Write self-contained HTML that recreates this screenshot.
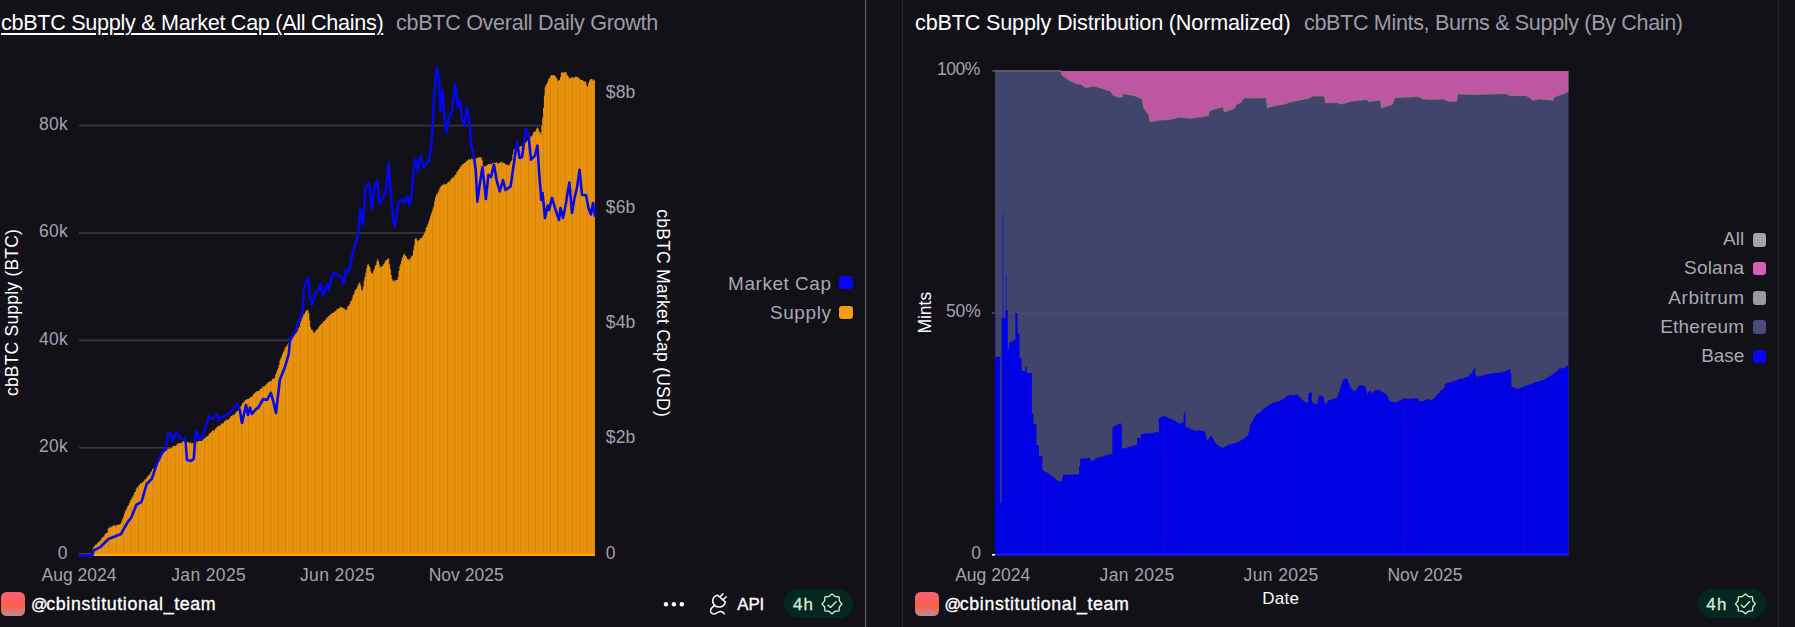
<!DOCTYPE html>
<html lang="en"><head><meta charset="utf-8"><title>cbBTC dashboard</title>
<style>
html,body{margin:0;padding:0;background:#111117;}
body{width:1795px;height:627px;overflow:hidden;position:relative;font-family:"Liberation Sans", Arial, sans-serif;color:#fff;}
.cv{position:absolute;left:0;top:0;}
.vl{position:absolute;top:0;height:627px;width:1px;}
.t{position:absolute;white-space:nowrap;line-height:1;margin:0;font-weight:400;}
.title{font-size:21.6px;top:12.1px;}
.title.on{color:#fff;}
.title.u{text-decoration:underline;text-decoration-thickness:1.7px;text-underline-offset:2.6px;}
.title.off{color:#9c9ca5;}
.ul{position:absolute;height:1.6px;background:#fff;}
.av{position:absolute;width:23.6px;height:24px;border-radius:5.5px;background:linear-gradient(180deg,#fb5f69 0%,#fb5f69 30%,#f95f4a 46%,#f8604a 60%,#dc7570 78%,#bd8797 100%);}
.user{font-size:17.8px;font-weight:500;color:#fff;top:596px;-webkit-text-stroke:0.35px #fff;}
.at{font-size:0.92em;letter-spacing:-1.4px;}
.lg{position:absolute;white-space:nowrap;line-height:1;font-size:19px;color:#a9a9b0;text-align:right;}
.sq{position:absolute;width:13.6px;height:13.6px;border-radius:3.2px;}
.badge{position:absolute;height:29.2px;width:68.6px;border-radius:14.6px;background:#03281f;}
.b4{font-size:16.9px;font-weight:500;color:#d5ecd9;-webkit-text-stroke:0.32px #d5ecd9;}
</style></head>
<body>
<svg class="cv" width="1795" height="627" viewBox="0 0 1795 627" font-family='"Liberation Sans", Arial, sans-serif'>
<defs>
<pattern id="st" x="79" y="0" width="7.36" height="600" patternUnits="userSpaceOnUse">
<rect x="0" y="0" width="7.36" height="600" fill="#e9920b"/>
<rect x="0" y="0" width="0.9" height="600" fill="#d38207"/>
<rect x="3.6" y="0" width="0.6" height="600" fill="#e08b09"/>
</pattern>
<pattern id="bst" x="995" y="0" width="7.5" height="600" patternUnits="userSpaceOnUse">
<rect width="7.5" height="600" fill="#0202e6"/>
<rect width="0.8" height="600" fill="#0000d4"/>
</pattern>
</defs>
<!-- left chart -->
<g fill="#37373d">
<rect x="79" y="124.7" width="516" height="1.7"/><rect x="79" y="232.1" width="516" height="1.7"/>
<rect x="79" y="339.5" width="516" height="1.7"/><rect x="79" y="446.9" width="516" height="1.7"/>
</g>
<path d="M92.5,548.7 L93.3,548.7 L93.3,546.6 L94.2,546.6 L94.2,546.6 L95.0,546.6 L95.0,544.8 L95.9,544.8 L95.9,544.7 L96.7,544.7 L96.7,543.6 L97.6,543.6 L97.6,542.2 L98.4,542.2 L98.4,542.1 L99.3,542.1 L99.3,540.4 L100.1,540.4 L100.1,540.2 L101.0,540.2 L101.0,538.4 L101.8,538.4 L101.8,537.4 L102.7,537.4 L102.7,537.0 L103.5,537.0 L103.5,536.6 L104.4,536.6 L104.4,534.3 L105.2,534.3 L105.2,533.4 L106.1,533.4 L106.1,533.1 L106.9,533.1 L106.9,532.6 L107.8,532.6 L107.8,528.6 L108.6,528.6 L108.6,527.2 L109.5,527.2 L109.5,528.0 L110.3,528.0 L110.3,526.1 L111.2,526.1 L111.2,527.3 L112.0,527.3 L112.0,526.0 L112.9,526.0 L112.9,525.5 L113.7,525.5 L113.7,525.3 L114.6,525.3 L114.6,525.4 L115.4,525.4 L115.4,526.0 L116.3,526.0 L116.3,524.6 L117.1,524.6 L117.1,525.1 L118.0,525.1 L118.0,525.0 L118.8,525.0 L118.8,524.3 L119.7,524.3 L119.7,524.3 L120.5,524.3 L120.5,523.2 L121.4,523.2 L121.4,520.7 L122.2,520.7 L122.2,518.4 L123.1,518.4 L123.1,516.7 L123.9,516.7 L123.9,513.7 L124.8,513.7 L124.8,511.2 L125.6,511.2 L125.6,509.9 L126.5,509.9 L126.5,507.9 L127.3,507.9 L127.3,505.9 L128.2,505.9 L128.2,505.0 L129.0,505.0 L129.0,503.1 L129.9,503.1 L129.9,500.5 L130.7,500.5 L130.7,499.4 L131.6,499.4 L131.6,497.7 L132.4,497.7 L132.4,496.6 L133.3,496.6 L133.3,494.7 L134.1,494.7 L134.1,492.3 L135.0,492.3 L135.0,491.9 L135.8,491.9 L135.8,488.7 L136.7,488.7 L136.7,487.6 L137.5,487.6 L137.5,486.9 L138.4,486.9 L138.4,485.0 L139.2,485.0 L139.2,484.7 L140.1,484.7 L140.1,483.1 L140.9,483.1 L140.9,483.4 L141.8,483.4 L141.8,482.7 L142.6,482.7 L142.6,481.5 L143.5,481.5 L143.5,481.2 L144.3,481.2 L144.3,479.4 L145.2,479.4 L145.2,479.2 L146.0,479.2 L146.0,478.2 L146.9,478.2 L146.9,477.0 L147.7,477.0 L147.7,475.6 L148.6,475.6 L148.6,475.2 L149.4,475.2 L149.4,474.2 L150.3,474.2 L150.3,472.2 L151.1,472.2 L151.1,471.3 L152.0,471.3 L152.0,469.1 L152.8,469.1 L152.8,469.0 L153.7,469.0 L153.7,467.8 L154.5,467.8 L154.5,467.2 L155.4,467.2 L155.4,465.7 L156.2,465.7 L156.2,463.6 L157.1,463.6 L157.1,462.4 L157.9,462.4 L157.9,461.5 L158.8,461.5 L158.8,458.9 L159.6,458.9 L159.6,458.3 L160.5,458.3 L160.5,456.3 L161.3,456.3 L161.3,454.8 L162.2,454.8 L162.2,453.3 L163.0,453.3 L163.0,453.2 L163.9,453.2 L163.9,450.6 L164.7,450.6 L164.7,450.2 L165.6,450.2 L165.6,450.0 L166.4,450.0 L166.4,450.4 L167.3,450.4 L167.3,448.5 L168.1,448.5 L168.1,448.7 L169.0,448.7 L169.0,448.5 L169.8,448.5 L169.8,448.6 L170.7,448.6 L170.7,448.0 L171.5,448.0 L171.5,447.7 L172.4,447.7 L172.4,446.2 L173.2,446.2 L173.2,446.1 L174.1,446.1 L174.1,445.6 L174.9,445.6 L174.9,446.1 L175.8,446.1 L175.8,445.9 L176.6,445.9 L176.6,444.0 L177.5,444.0 L177.5,443.7 L178.3,443.7 L178.3,443.4 L179.2,443.4 L179.2,443.0 L180.0,443.0 L180.0,443.1 L180.9,443.1 L180.9,442.9 L181.7,442.9 L181.7,441.9 L182.6,441.9 L182.6,441.0 L183.4,441.0 L183.4,441.4 L184.3,441.4 L184.3,440.9 L185.1,440.9 L185.1,441.3 L186.0,441.3 L186.0,442.3 L186.8,442.3 L186.8,442.1 L187.7,442.1 L187.7,442.1 L188.5,442.1 L188.5,442.5 L189.4,442.5 L189.4,442.9 L190.2,442.9 L190.2,442.1 L191.1,442.1 L191.1,443.6 L191.9,443.6 L191.9,443.3 L192.8,443.3 L192.8,443.3 L193.6,443.3 L193.6,443.1 L194.5,443.1 L194.5,442.2 L195.3,442.2 L195.3,442.1 L196.2,442.1 L196.2,441.4 L197.0,441.4 L197.0,442.3 L197.9,442.3 L197.9,441.0 L198.7,441.0 L198.7,440.9 L199.6,440.9 L199.6,440.9 L200.4,440.9 L200.4,440.6 L201.3,440.6 L201.3,440.7 L202.1,440.7 L202.1,440.0 L203.0,440.0 L203.0,439.2 L203.8,439.2 L203.8,438.6 L204.7,438.6 L204.7,437.7 L205.5,437.7 L205.5,437.3 L206.4,437.3 L206.4,435.9 L207.2,435.9 L207.2,436.5 L208.1,436.5 L208.1,435.2 L208.9,435.2 L208.9,433.6 L209.8,433.6 L209.8,432.9 L210.6,432.9 L210.6,432.2 L211.5,432.2 L211.5,431.4 L212.3,431.4 L212.3,430.1 L213.2,430.1 L213.2,430.8 L214.0,430.8 L214.0,430.4 L214.9,430.4 L214.9,428.8 L215.7,428.8 L215.7,428.2 L216.6,428.2 L216.6,426.8 L217.4,426.8 L217.4,426.2 L218.3,426.2 L218.3,426.0 L219.1,426.0 L219.1,425.2 L220.0,425.2 L220.0,425.5 L220.8,425.5 L220.8,423.7 L221.7,423.7 L221.7,422.8 L222.5,422.8 L222.5,423.8 L223.4,423.8 L223.4,422.4 L224.2,422.4 L224.2,421.0 L225.1,421.0 L225.1,421.1 L225.9,421.1 L225.9,419.5 L226.8,419.5 L226.8,419.7 L227.6,419.7 L227.6,419.9 L228.5,419.9 L228.5,419.0 L229.3,419.0 L229.3,418.0 L230.2,418.0 L230.2,416.6 L231.0,416.6 L231.0,416.1 L231.9,416.1 L231.9,415.1 L232.7,415.1 L232.7,415.5 L233.6,415.5 L233.6,414.4 L234.4,414.4 L234.4,414.2 L235.3,414.2 L235.3,412.7 L236.1,412.7 L236.1,411.5 L237.0,411.5 L237.0,411.3 L237.8,411.3 L237.8,410.4 L238.7,410.4 L238.7,408.9 L239.5,408.9 L239.5,407.6 L240.4,407.6 L240.4,406.4 L241.2,406.4 L241.2,405.1 L242.1,405.1 L242.1,402.9 L242.9,402.9 L242.9,402.6 L243.8,402.6 L243.8,401.6 L244.6,401.6 L244.6,400.3 L245.5,400.3 L245.5,399.6 L246.3,399.6 L246.3,399.4 L247.2,399.4 L247.2,398.7 L248.0,398.7 L248.0,398.8 L248.9,398.8 L248.9,398.6 L249.7,398.6 L249.7,397.0 L250.6,397.0 L250.6,397.2 L251.4,397.2 L251.4,396.6 L252.3,396.6 L252.3,395.8 L253.1,395.8 L253.1,394.1 L254.0,394.1 L254.0,393.2 L254.8,393.2 L254.8,392.5 L255.7,392.5 L255.7,391.8 L256.5,391.8 L256.5,391.1 L257.4,391.1 L257.4,391.2 L258.2,391.2 L258.2,391.0 L259.1,391.0 L259.1,390.2 L259.9,390.2 L259.9,388.8 L260.8,388.8 L260.8,388.5 L261.6,388.5 L261.6,388.0 L262.5,388.0 L262.5,386.1 L263.3,386.1 L263.3,386.4 L264.2,386.4 L264.2,386.2 L265.0,386.2 L265.0,385.3 L265.9,385.3 L265.9,384.5 L266.7,384.5 L266.7,383.4 L267.6,383.4 L267.6,382.1 L268.4,382.1 L268.4,382.6 L269.3,382.6 L269.3,381.1 L270.1,381.1 L270.1,381.2 L271.0,381.2 L271.0,380.9 L271.8,380.9 L271.8,379.1 L272.7,379.1 L272.7,378.5 L273.5,378.5 L273.5,378.8 L274.4,378.8 L274.4,377.5 L275.2,377.5 L275.2,374.5 L276.1,374.5 L276.1,372.4 L276.9,372.4 L276.9,370.0 L277.8,370.0 L277.8,368.1 L278.6,368.1 L278.6,364.8 L279.5,364.8 L279.5,360.4 L280.3,360.4 L280.3,358.4 L281.2,358.4 L281.2,356.6 L282.0,356.6 L282.0,354.3 L282.9,354.3 L282.9,352.0 L283.7,352.0 L283.7,350.6 L284.6,350.6 L284.6,348.1 L285.4,348.1 L285.4,346.2 L286.3,346.2 L286.3,346.5 L287.1,346.5 L287.1,344.6 L288.0,344.6 L288.0,343.0 L288.8,343.0 L288.8,342.4 L289.7,342.4 L289.7,340.2 L290.5,340.2 L290.5,339.7 L291.4,339.7 L291.4,338.2 L292.2,338.2 L292.2,335.9 L293.1,335.9 L293.1,335.1 L293.9,335.1 L293.9,334.4 L294.8,334.4 L294.8,333.5 L295.6,333.5 L295.6,333.2 L296.5,333.2 L296.5,331.8 L297.4,331.8 L297.4,331.1 L298.2,331.1 L298.2,328.0 L299.1,328.0 L299.1,326.8 L299.9,326.8 L299.9,323.3 L300.8,323.3 L300.8,320.9 L301.6,320.9 L301.6,318.5 L302.5,318.5 L302.5,316.6 L303.3,316.6 L303.3,314.3 L304.2,314.3 L304.2,313.9 L305.0,313.9 L305.0,311.7 L305.9,311.7 L305.9,310.4 L306.7,310.4 L306.7,310.2 L307.6,310.2 L307.6,309.8 L308.4,309.8 L308.4,313.0 L309.3,313.0 L309.3,320.4 L310.1,320.4 L310.1,327.0 L311.0,327.0 L311.0,329.5 L311.8,329.5 L311.8,329.6 L312.7,329.6 L312.7,331.2 L313.5,331.2 L313.5,332.8 L314.4,332.8 L314.4,332.2 L315.2,332.2 L315.2,330.7 L316.1,330.7 L316.1,330.0 L316.9,330.0 L316.9,329.1 L317.8,329.1 L317.8,328.4 L318.6,328.4 L318.6,326.2 L319.5,326.2 L319.5,325.9 L320.3,325.9 L320.3,324.4 L321.2,324.4 L321.2,323.4 L322.0,323.4 L322.0,323.3 L322.9,323.3 L322.9,321.8 L323.7,321.8 L323.7,320.9 L324.6,320.9 L324.6,320.3 L325.4,320.3 L325.4,319.5 L326.3,319.5 L326.3,317.7 L327.1,317.7 L327.1,317.2 L328.0,317.2 L328.0,316.3 L328.8,316.3 L328.8,315.6 L329.7,315.6 L329.7,315.2 L330.5,315.2 L330.5,314.1 L331.4,314.1 L331.4,313.5 L332.2,313.5 L332.2,312.7 L333.1,312.7 L333.1,312.8 L333.9,312.8 L333.9,311.7 L334.8,311.7 L334.8,311.3 L335.6,311.3 L335.6,310.8 L336.5,310.8 L336.5,308.9 L337.3,308.9 L337.3,308.7 L338.2,308.7 L338.2,308.8 L339.0,308.8 L339.0,307.9 L339.9,307.9 L339.9,306.6 L340.7,306.6 L340.7,306.9 L341.6,306.9 L341.6,307.9 L342.4,307.9 L342.4,307.6 L343.3,307.6 L343.3,308.3 L344.1,308.3 L344.1,308.4 L345.0,308.4 L345.0,309.8 L345.8,309.8 L345.8,310.0 L346.7,310.0 L346.7,308.8 L347.5,308.8 L347.5,306.1 L348.4,306.1 L348.4,305.7 L349.2,305.7 L349.2,304.3 L350.1,304.3 L350.1,301.5 L350.9,301.5 L350.9,300.7 L351.8,300.7 L351.8,298.7 L352.6,298.7 L352.6,295.2 L353.5,295.2 L353.5,294.3 L354.3,294.3 L354.3,291.1 L355.2,291.1 L355.2,289.6 L356.0,289.6 L356.0,288.9 L356.9,288.9 L356.9,287.1 L357.7,287.1 L357.7,284.4 L358.6,284.4 L358.6,283.4 L359.4,283.4 L359.4,282.0 L360.3,282.0 L360.3,285.2 L361.1,285.2 L361.1,289.8 L362.0,289.8 L362.0,290.6 L362.8,290.6 L362.8,286.7 L363.7,286.7 L363.7,280.8 L364.5,280.8 L364.5,277.1 L365.4,277.1 L365.4,272.8 L366.2,272.8 L366.2,268.2 L367.1,268.2 L367.1,265.0 L367.9,265.0 L367.9,264.1 L368.8,264.1 L368.8,266.1 L369.6,266.1 L369.6,267.6 L370.5,267.6 L370.5,271.5 L371.3,271.5 L371.3,273.3 L372.2,273.3 L372.2,273.8 L373.0,273.8 L373.0,271.0 L373.9,271.0 L373.9,268.9 L374.7,268.9 L374.7,266.0 L375.6,266.0 L375.6,264.8 L376.4,264.8 L376.4,261.4 L377.3,261.4 L377.3,258.7 L378.1,258.7 L378.1,261.0 L379.0,261.0 L379.0,264.5 L379.8,264.5 L379.8,266.8 L380.7,266.8 L380.7,267.2 L381.5,267.2 L381.5,265.8 L382.4,265.8 L382.4,265.9 L383.2,265.9 L383.2,264.1 L384.1,264.1 L384.1,263.1 L384.9,263.1 L384.9,260.9 L385.8,260.9 L385.8,259.8 L386.6,259.8 L386.6,260.0 L387.5,260.0 L387.5,258.5 L388.3,258.5 L388.3,258.3 L389.2,258.3 L389.2,264.5 L390.0,264.5 L390.0,269.0 L390.9,269.0 L390.9,274.9 L391.7,274.9 L391.7,279.1 L392.6,279.1 L392.6,281.5 L393.4,281.5 L393.4,279.9 L394.3,279.9 L394.3,281.2 L395.1,281.2 L395.1,280.3 L396.0,280.3 L396.0,279.9 L396.8,279.9 L396.8,280.1 L397.7,280.1 L397.7,277.0 L398.5,277.0 L398.5,271.1 L399.4,271.1 L399.4,266.1 L400.2,266.1 L400.2,263.7 L401.1,263.7 L401.1,260.6 L401.9,260.6 L401.9,257.8 L402.8,257.8 L402.8,255.3 L403.6,255.3 L403.6,253.5 L404.5,253.5 L404.5,254.8 L405.3,254.8 L405.3,256.0 L406.2,256.0 L406.2,257.1 L407.0,257.1 L407.0,258.9 L407.9,258.9 L407.9,259.1 L408.7,259.1 L408.7,260.2 L409.6,260.2 L409.6,258.5 L410.4,258.5 L410.4,257.7 L411.3,257.7 L411.3,255.9 L412.1,255.9 L412.1,255.2 L413.0,255.2 L413.0,250.3 L413.8,250.3 L413.8,245.5 L414.7,245.5 L414.7,239.1 L415.5,239.1 L415.5,237.7 L416.4,237.7 L416.4,239.4 L417.2,239.4 L417.2,241.4 L418.1,241.4 L418.1,239.7 L418.9,239.7 L418.9,240.2 L419.8,240.2 L419.8,238.6 L420.6,238.6 L420.6,237.9 L421.5,237.9 L421.5,237.7 L422.3,237.7 L422.3,236.1 L423.2,236.1 L423.2,234.6 L424.0,234.6 L424.0,232.7 L424.9,232.7 L424.9,231.1 L425.7,231.1 L425.7,227.8 L426.6,227.8 L426.6,226.6 L427.4,226.6 L427.4,224.2 L428.3,224.2 L428.3,221.8 L429.1,221.8 L429.1,219.0 L430.0,219.0 L430.0,216.5 L430.8,216.5 L430.8,213.6 L431.7,213.6 L431.7,211.3 L432.5,211.3 L432.5,208.8 L433.4,208.8 L433.4,206.2 L434.2,206.2 L434.2,201.3 L435.1,201.3 L435.1,197.1 L435.9,197.1 L435.9,194.6 L436.8,194.6 L436.8,194.3 L437.6,194.3 L437.6,192.6 L438.5,192.6 L438.5,190.6 L439.3,190.6 L439.3,188.2 L440.2,188.2 L440.2,186.4 L441.0,186.4 L441.0,185.7 L441.9,185.7 L441.9,185.5 L442.7,185.5 L442.7,184.5 L443.6,184.5 L443.6,184.5 L444.4,184.5 L444.4,183.7 L445.3,183.7 L445.3,184.5 L446.1,184.5 L446.1,184.0 L447.0,184.0 L447.0,182.7 L447.8,182.7 L447.8,181.6 L448.7,181.6 L448.7,182.3 L449.5,182.3 L449.5,180.5 L450.4,180.5 L450.4,179.7 L451.2,179.7 L451.2,178.2 L452.1,178.2 L452.1,178.0 L452.9,178.0 L452.9,177.3 L453.8,177.3 L453.8,176.5 L454.6,176.5 L454.6,175.1 L455.5,175.1 L455.5,174.6 L456.3,174.6 L456.3,172.3 L457.2,172.3 L457.2,171.3 L458.0,171.3 L458.0,169.8 L458.9,169.8 L458.9,169.1 L459.7,169.1 L459.7,167.3 L460.6,167.3 L460.6,166.0 L461.4,166.0 L461.4,165.3 L462.3,165.3 L462.3,164.0 L463.1,164.0 L463.1,163.8 L464.0,163.8 L464.0,162.9 L464.8,162.9 L464.8,162.5 L465.7,162.5 L465.7,161.5 L466.5,161.5 L466.5,160.7 L467.4,160.7 L467.4,160.3 L468.2,160.3 L468.2,159.2 L469.1,159.2 L469.1,158.9 L469.9,158.9 L469.9,159.9 L470.8,159.9 L470.8,158.2 L471.6,158.2 L471.6,159.1 L472.5,159.1 L472.5,158.8 L473.3,158.8 L473.3,157.5 L474.2,157.5 L474.2,158.8 L475.0,158.8 L475.0,158.7 L475.9,158.7 L475.9,158.1 L476.7,158.1 L476.7,158.1 L477.6,158.1 L477.6,158.1 L478.4,158.1 L478.4,156.8 L479.3,156.8 L479.3,157.4 L480.1,157.4 L480.1,157.2 L481.0,157.2 L481.0,157.7 L481.8,157.7 L481.8,160.5 L482.7,160.5 L482.7,165.3 L483.5,165.3 L483.5,166.0 L484.4,166.0 L484.4,166.4 L485.2,166.4 L485.2,165.9 L486.1,165.9 L486.1,165.8 L486.9,165.8 L486.9,164.8 L487.8,164.8 L487.8,164.3 L488.6,164.3 L488.6,164.3 L489.5,164.3 L489.5,164.3 L490.3,164.3 L490.3,163.4 L491.2,163.4 L491.2,164.3 L492.0,164.3 L492.0,163.4 L492.9,163.4 L492.9,163.1 L493.7,163.1 L493.7,162.7 L494.6,162.7 L494.6,162.9 L495.4,162.9 L495.4,162.7 L496.3,162.7 L496.3,161.9 L497.1,161.9 L497.1,163.5 L498.0,163.5 L498.0,163.3 L498.8,163.3 L498.8,162.7 L499.7,162.7 L499.7,162.5 L500.5,162.5 L500.5,162.5 L501.4,162.5 L501.4,161.3 L502.2,161.3 L502.2,163.0 L503.1,163.0 L503.1,162.7 L503.9,162.7 L503.9,162.9 L504.8,162.9 L504.8,163.8 L505.6,163.8 L505.6,165.1 L506.5,165.1 L506.5,164.2 L507.3,164.2 L507.3,165.1 L508.2,165.1 L508.2,165.6 L509.0,165.6 L509.0,164.6 L509.9,164.6 L509.9,162.8 L510.7,162.8 L510.7,161.3 L511.6,161.3 L511.6,160.0 L512.4,160.0 L512.4,154.5 L513.3,154.5 L513.3,149.5 L514.1,149.5 L514.1,149.2 L515.0,149.2 L515.0,147.8 L515.8,147.8 L515.8,147.6 L516.7,147.6 L516.7,147.4 L517.5,147.4 L517.5,148.0 L518.4,148.0 L518.4,147.0 L519.2,147.0 L519.2,147.3 L520.1,147.3 L520.1,146.2 L520.9,146.2 L520.9,146.1 L521.8,146.1 L521.8,146.2 L522.6,146.2 L522.6,145.9 L523.5,145.9 L523.5,145.0 L524.3,145.0 L524.3,144.0 L525.2,144.0 L525.2,142.3 L526.0,142.3 L526.0,141.8 L526.9,141.8 L526.9,140.7 L527.7,140.7 L527.7,139.8 L528.6,139.8 L528.6,138.2 L529.4,138.2 L529.4,138.6 L530.3,138.6 L530.3,136.2 L531.1,136.2 L531.1,136.4 L532.0,136.4 L532.0,135.2 L532.8,135.2 L532.8,132.4 L533.7,132.4 L533.7,132.1 L534.5,132.1 L534.5,131.6 L535.4,131.6 L535.4,130.7 L536.2,130.7 L536.2,128.6 L537.1,128.6 L537.1,127.4 L537.9,127.4 L537.9,128.8 L538.8,128.8 L538.8,131.6 L539.6,131.6 L539.6,131.8 L540.5,131.8 L540.5,133.9 L541.3,133.9 L541.3,126.0 L542.2,126.0 L542.2,117.8 L543.0,117.8 L543.0,107.7 L543.9,107.7 L543.9,95.4 L544.7,95.4 L544.7,87.1 L545.6,87.1 L545.6,84.8 L546.4,84.8 L546.4,83.8 L547.3,83.8 L547.3,81.7 L548.1,81.7 L548.1,79.1 L549.0,79.1 L549.0,78.6 L549.8,78.6 L549.8,76.5 L550.7,76.5 L550.7,75.3 L551.5,75.3 L551.5,74.9 L552.4,74.9 L552.4,75.5 L553.2,75.5 L553.2,75.1 L554.1,75.1 L554.1,75.3 L554.9,75.3 L554.9,76.1 L555.8,76.1 L555.8,77.6 L556.6,77.6 L556.6,78.7 L557.5,78.7 L557.5,80.8 L558.3,80.8 L558.3,80.4 L559.2,80.4 L559.2,80.0 L560.0,80.0 L560.0,76.9 L560.9,76.9 L560.9,72.4 L561.7,72.4 L561.7,72.4 L562.6,72.4 L562.6,72.2 L563.4,72.2 L563.4,72.8 L564.3,72.8 L564.3,71.9 L565.1,71.9 L565.1,72.2 L566.0,72.2 L566.0,72.5 L566.8,72.5 L566.8,74.7 L567.7,74.7 L567.7,76.0 L568.5,76.0 L568.5,77.6 L569.4,77.6 L569.4,78.7 L570.2,78.7 L570.2,78.1 L571.1,78.1 L571.1,77.4 L571.9,77.4 L571.9,77.2 L572.8,77.2 L572.8,78.2 L573.6,78.2 L573.6,76.9 L574.5,76.9 L574.5,77.7 L575.3,77.7 L575.3,76.2 L576.2,76.2 L576.2,76.6 L577.0,76.6 L577.0,77.4 L577.9,77.4 L577.9,77.3 L578.7,77.3 L578.7,78.0 L579.6,78.0 L579.6,79.4 L580.4,79.4 L580.4,79.7 L581.3,79.7 L581.3,80.0 L582.1,80.0 L582.1,80.1 L583.0,80.1 L583.0,81.1 L583.8,81.1 L583.8,81.6 L584.7,81.6 L584.7,81.3 L585.5,81.3 L585.5,82.1 L586.4,82.1 L586.4,85.8 L587.2,85.8 L587.2,86.4 L588.1,86.4 L588.1,83.2 L588.9,83.2 L588.9,81.0 L589.8,81.0 L589.8,79.4 L590.6,79.4 L590.6,78.9 L591.5,78.9 L591.5,78.7 L592.3,78.7 L592.3,80.6 L593.2,80.6 L593.2,79.3 L594.0,79.3 L594.0,80.2 L594.9,80.2 L594.9,80.1 L595.0,80.1 L595,555.5 L92.5,555.5 Z" fill="url(#st)"/>
<rect x="92.5" y="553.6" width="502.5" height="2.4" fill="#fda116"/>
<rect x="79" y="553.8" width="14" height="1.6" fill="#ffffff"/>
<path d="M79.0,555.4 L92.3,555.4 L93.5,550.6 L100.6,546.8 L108.3,539.0 L111.0,538.0 L121.0,534.0 L127.4,522.5 L131.3,517.4 L136.4,504.7 L141.5,502.0 L146.6,484.0 L151.7,479.0 L156.8,463.8 L163.0,451.0 L165.7,449.8 L168.3,433.0 L170.8,432.7 L172.0,440.8 L177.0,432.0 L179.8,438.0 L183.6,439.6 L185.3,438.0 L187.0,460.0 L191.0,461.0 L193.8,458.7 L195.6,433.0 L197.0,430.6 L198.4,438.0 L201.5,439.6 L209.0,416.6 L213.0,419.0 L216.8,414.0 L219.0,420.0 L223.0,416.6 L228.0,414.0 L233.4,409.0 L237.0,403.8 L239.8,410.0 L242.0,423.0 L246.0,405.0 L248.0,415.0 L250.0,407.7 L252.0,414.0 L256.0,409.0 L258.0,408.0 L263.2,399.0 L267.0,400.0 L270.8,392.8 L273.4,401.7 L276.0,413.0 L279.8,380.0 L284.9,367.0 L288.7,354.5 L290.0,340.4 L296.4,330.0 L299.0,320.0 L302.8,311.0 L304.0,288.0 L306.6,281.7 L308.6,277.9 L309.7,295.7 L312.2,304.7 L315.5,293.0 L319.4,289.4 L320.6,284.0 L323.2,295.7 L327.0,284.0 L328.3,289.4 L333.4,272.8 L337.2,275.0 L341.0,276.6 L343.6,284.0 L346.0,270.0 L348.0,272.0 L350.0,266.4 L351.5,257.9 L357.9,234.9 L360.4,209.4 L363.0,224.7 L365.5,186.4 L369.4,183.8 L372.0,209.0 L374.5,187.7 L377.5,180.0 L379.6,204.0 L383.4,196.6 L386.0,191.5 L388.5,163.4 L391.0,194.0 L393.6,222.0 L394.9,226.0 L398.7,201.7 L402.5,199.0 L404.0,203.0 L407.7,196.6 L409.0,205.5 L411.5,196.6 L414.0,166.0 L415.3,159.6 L417.9,171.0 L420.4,155.7 L423.8,167.0 L429.0,160.8 L431.5,144.0 L434.0,98.0 L436.6,67.7 L439.0,80.0 L440.4,111.0 L442.5,90.6 L444.0,111.0 L446.3,132.8 L449.4,116.0 L452.0,111.0 L455.0,84.0 L457.8,106.0 L460.0,101.0 L462.0,120.0 L464.7,125.0 L467.0,107.0 L469.8,123.8 L471.0,144.0 L473.6,154.5 L475.7,169.8 L477.4,201.7 L480.0,182.5 L482.5,167.0 L485.9,199.0 L488.4,174.9 L491.0,177.0 L494.0,164.7 L496.6,180.0 L499.7,191.5 L503.0,180.0 L505.5,190.0 L510.6,186.4 L513.0,169.8 L517.0,141.7 L519.6,158.0 L522.0,157.0 L526.0,129.0 L528.5,135.0 L531.0,159.6 L534.9,155.7 L537.4,145.5 L539.5,177.4 L541.3,200.0 L542.5,193.0 L545.0,218.0 L547.7,205.5 L549.0,210.0 L552.0,197.9 L555.0,208.0 L559.0,220.0 L560.5,208.0 L563.0,218.0 L565.5,205.5 L569.4,182.5 L572.0,213.0 L574.5,197.9 L577.0,187.7 L579.6,169.8 L582.0,195.0 L586.0,195.0 L588.5,208.0 L591.0,214.5 L593.0,203.0 L595.0,215.7" fill="none" stroke="#0606ee" stroke-width="2.6" stroke-linejoin="round" stroke-linecap="round"/>
<!-- right chart -->
<rect x="995" y="71" width="573.5" height="484" fill="#42446b"/>
<path d="M1061.2,71.0 L1062.0,75.0 L1068.8,80.0 L1075.5,83.5 L1081.3,84.3 L1085.5,87.7 L1093.9,86.0 L1102.3,88.5 L1110.6,91.0 L1113.0,95.2 L1119.0,97.2 L1122.4,96.9 L1122.7,93.5 L1129.0,94.7 L1135.8,96.0 L1142.5,99.4 L1143.3,107.0 L1146.6,112.0 L1149.0,115.3 L1150.0,121.7 L1155.9,121.0 L1159.0,120.0 L1169.3,119.5 L1179.3,117.3 L1191.0,118.3 L1202.8,116.6 L1208.6,115.3 L1209.0,111.0 L1216.0,108.6 L1222.9,106.9 L1224.5,112.0 L1234.6,108.3 L1235.4,105.3 L1241.3,101.9 L1243.8,97.7 L1253.0,98.0 L1266.4,97.7 L1267.2,107.8 L1273.0,106.0 L1280.0,104.8 L1285.0,104.0 L1290.0,101.9 L1300.0,99.9 L1308.5,98.6 L1312.7,96.0 L1324.7,96.0 L1325.3,102.7 L1337.0,102.7 L1342.0,104.0 L1352.0,101.0 L1367.0,99.4 L1368.8,101.6 L1380.5,100.2 L1381.4,107.8 L1392.3,104.4 L1394.8,97.7 L1419.0,96.5 L1422.4,98.9 L1432.5,99.4 L1442.5,98.9 L1449.2,101.4 L1456.7,101.0 L1457.6,93.9 L1476.0,94.4 L1492.8,93.9 L1506.0,93.5 L1509.5,95.7 L1526.3,95.5 L1533.0,100.2 L1539.7,98.9 L1553.0,100.2 L1553.9,97.2 L1559.8,94.9 L1566.5,92.7 L1568.5,91.0 L1568.5,71 Z" fill="#bc57a1"/>
<path d="M1061.2,71.0 L1062.0,75.0 L1068.8,80.0 L1075.5,83.5 L1081.3,84.3 L1085.5,87.7 L1093.9,86.0 L1102.3,88.5 L1110.6,91.0 L1113.0,95.2 L1119.0,97.2 L1122.4,96.9 L1122.7,93.5 L1129.0,94.7 L1135.8,96.0 L1142.5,99.4 L1143.3,107.0 L1146.6,112.0 L1149.0,115.3 L1150.0,121.7 L1155.9,121.0 L1159.0,120.0 L1169.3,119.5 L1179.3,117.3 L1191.0,118.3 L1202.8,116.6 L1208.6,115.3 L1209.0,111.0 L1216.0,108.6 L1222.9,106.9 L1224.5,112.0 L1234.6,108.3 L1235.4,105.3 L1241.3,101.9 L1243.8,97.7 L1253.0,98.0 L1266.4,97.7 L1267.2,107.8 L1273.0,106.0 L1280.0,104.8 L1285.0,104.0 L1290.0,101.9 L1300.0,99.9 L1308.5,98.6 L1312.7,96.0 L1324.7,96.0 L1325.3,102.7 L1337.0,102.7 L1342.0,104.0 L1352.0,101.0 L1367.0,99.4 L1368.8,101.6 L1380.5,100.2 L1381.4,107.8 L1392.3,104.4 L1394.8,97.7 L1419.0,96.5 L1422.4,98.9 L1432.5,99.4 L1442.5,98.9 L1449.2,101.4 L1456.7,101.0 L1457.6,93.9 L1476.0,94.4 L1492.8,93.9 L1506.0,93.5 L1509.5,95.7 L1526.3,95.5 L1533.0,100.2 L1539.7,98.9 L1553.0,100.2 L1553.9,97.2 L1559.8,94.9 L1566.5,92.7 L1568.5,91.0" fill="none" stroke="#8a8470" stroke-width="0.8"/>
<rect x="995" y="70.2" width="66.5" height="1.4" fill="#6b6c80"/>
<rect x="995" y="312.6" width="573.5" height="1" fill="#4c4e75"/>
<path d="M995.0,356.8 L1000.3,356.8 L1000.3,503.0 L1001.6,503.0 L1001.6,317.8 L1005.4,317.8 L1005.4,310.0 L1007.8,310.0 L1007.8,349.0 L1009.0,349.0 L1009.0,343.0 L1012.0,341.0 L1015.3,340.0 L1015.3,313.0 L1017.6,313.0 L1017.6,333.6 L1019.5,333.6 L1019.5,358.0 L1021.5,358.0 L1021.5,364.6 L1022.0,371.0 L1025.4,371.0 L1025.4,366.7 L1026.8,366.7 L1026.8,373.0 L1031.9,373.0 L1031.9,413.7 L1033.6,413.7 L1033.6,424.0 L1036.4,424.0 L1036.4,445.0 L1039.0,445.0 L1039.0,455.8 L1042.4,455.8 L1042.4,469.8 L1043.0,470.4 L1044.0,470.4 L1044.0,471.1 L1044.9,471.1 L1044.9,472.1 L1045.9,472.1 L1045.9,472.2 L1046.8,472.2 L1046.8,472.8 L1047.8,472.8 L1047.8,473.5 L1048.7,473.5 L1048.7,473.8 L1049.7,473.8 L1049.7,474.8 L1050.6,474.8 L1050.6,475.6 L1051.6,475.6 L1051.6,476.4 L1052.5,476.4 L1052.5,476.3 L1053.5,476.3 L1053.5,477.4 L1054.4,477.4 L1054.4,477.9 L1055.4,477.9 L1055.4,479.5 L1056.3,479.5 L1056.3,480.2 L1057.3,480.2 L1057.3,480.3 L1058.2,480.3 L1058.2,481.5 L1059.2,481.5 L1059.2,481.5 L1060.1,481.5 L1060.1,481.2 L1061.1,481.2 L1061.1,481.1 L1062.0,481.1 L1062.0,477.9 L1063.0,477.9 L1063.0,474.5 L1063.9,474.5 L1063.9,475.0 L1064.9,475.0 L1064.9,474.5 L1065.8,474.5 L1065.8,474.7 L1066.8,474.7 L1066.8,474.7 L1067.7,474.7 L1067.7,474.4 L1068.7,474.4 L1068.7,474.8 L1069.6,474.8 L1069.6,474.7 L1070.6,474.7 L1070.6,475.0 L1071.5,475.0 L1071.5,474.6 L1072.5,474.6 L1072.5,474.7 L1073.4,474.7 L1073.4,474.4 L1074.4,474.4 L1074.4,474.5 L1075.3,474.5 L1075.3,474.2 L1076.3,474.2 L1076.3,473.9 L1077.2,473.9 L1077.2,474.7 L1078.2,474.7 L1078.2,474.6 L1079.1,474.6 L1079.1,465.7 L1080.1,465.7 L1080.1,459.1 L1081.0,459.1 L1081.0,458.6 L1082.0,458.6 L1082.0,458.3 L1082.9,458.3 L1082.9,458.2 L1083.9,458.2 L1083.9,457.9 L1084.8,457.9 L1084.8,458.5 L1085.8,458.5 L1085.8,457.9 L1086.7,457.9 L1086.7,458.3 L1087.7,458.3 L1087.7,457.6 L1088.6,457.6 L1088.6,458.1 L1089.6,458.1 L1089.6,458.8 L1090.5,458.8 L1090.5,460.4 L1091.5,460.4 L1091.5,460.7 L1092.4,460.7 L1092.4,461.5 L1093.4,461.5 L1093.4,459.5 L1094.3,459.5 L1094.3,459.3 L1095.3,459.3 L1095.3,458.4 L1096.2,458.4 L1096.2,457.7 L1097.2,457.7 L1097.2,458.1 L1098.1,458.1 L1098.1,458.0 L1099.1,458.0 L1099.1,457.1 L1100.0,457.1 L1100.0,456.6 L1101.0,456.6 L1101.0,456.6 L1101.9,456.6 L1101.9,457.0 L1102.9,457.0 L1102.9,456.5 L1103.8,456.5 L1103.8,455.6 L1104.8,455.6 L1104.8,455.4 L1105.7,455.4 L1105.7,455.0 L1106.7,455.0 L1106.7,454.7 L1107.6,454.7 L1107.6,455.2 L1108.6,455.2 L1108.6,454.2 L1109.5,454.2 L1109.5,454.4 L1110.5,454.4 L1110.5,454.0 L1111.4,454.0 L1111.4,453.7 L1112.4,453.7 L1112.4,427.7 L1113.3,427.7 L1113.3,426.4 L1114.3,426.4 L1114.3,426.3 L1115.2,426.3 L1115.2,425.2 L1116.2,425.2 L1116.2,425.0 L1117.1,425.0 L1117.1,424.3 L1118.1,424.3 L1118.1,423.8 L1119.0,423.8 L1119.0,424.0 L1120.0,424.0 L1120.0,423.3 L1120.9,423.3 L1120.9,425.1 L1121.9,425.1 L1121.9,449.1 L1122.8,449.1 L1122.8,448.2 L1123.8,448.2 L1123.8,448.1 L1124.7,448.1 L1124.7,448.4 L1125.7,448.4 L1125.7,447.9 L1126.6,447.9 L1126.6,447.1 L1127.6,447.1 L1127.6,447.8 L1128.5,447.8 L1128.5,446.7 L1129.5,446.7 L1129.5,446.5 L1130.4,446.5 L1130.4,446.9 L1131.4,446.9 L1131.4,446.1 L1132.3,446.1 L1132.3,445.8 L1133.3,445.8 L1133.3,445.4 L1134.2,445.4 L1134.2,445.1 L1135.2,445.1 L1135.2,445.4 L1136.1,445.4 L1136.1,444.8 L1137.1,444.8 L1137.1,438.1 L1138.0,438.1 L1138.0,437.9 L1139.0,437.9 L1139.0,437.9 L1139.9,437.9 L1139.9,438.5 L1140.9,438.5 L1140.9,433.9 L1141.8,433.9 L1141.8,433.9 L1142.8,433.9 L1142.8,434.1 L1143.7,434.1 L1143.7,433.3 L1144.7,433.3 L1144.7,433.1 L1145.6,433.1 L1145.6,433.9 L1146.6,433.9 L1146.6,433.7 L1147.5,433.7 L1147.5,432.9 L1148.5,432.9 L1148.5,432.8 L1149.4,432.8 L1149.4,433.2 L1150.4,433.2 L1150.4,433.4 L1151.3,433.4 L1151.3,432.4 L1152.3,432.4 L1152.3,433.2 L1153.2,433.2 L1153.2,433.0 L1154.2,433.0 L1154.2,432.6 L1155.1,432.6 L1155.1,432.2 L1156.1,432.2 L1156.1,431.8 L1157.0,431.8 L1157.0,431.6 L1158.0,431.6 L1158.0,432.5 L1158.9,432.5 L1158.9,418.1 L1159.9,418.1 L1159.9,417.8 L1160.8,417.8 L1160.8,416.8 L1161.8,416.8 L1161.8,416.9 L1162.7,416.9 L1162.7,416.2 L1163.7,416.2 L1163.7,416.0 L1164.6,416.0 L1164.6,416.3 L1165.6,416.3 L1165.6,417.2 L1166.5,417.2 L1166.5,416.9 L1167.5,416.9 L1167.5,417.4 L1168.4,417.4 L1168.4,418.1 L1169.4,418.1 L1169.4,418.8 L1170.3,418.8 L1170.3,418.9 L1171.3,418.9 L1171.3,418.8 L1172.2,418.8 L1172.2,420.0 L1173.2,420.0 L1173.2,419.9 L1174.1,419.9 L1174.1,420.3 L1175.1,420.3 L1175.1,421.2 L1176.0,421.2 L1176.0,422.0 L1177.0,422.0 L1177.0,422.3 L1177.9,422.3 L1177.9,423.0 L1178.9,423.0 L1178.9,423.6 L1179.8,423.6 L1179.8,423.5 L1180.8,423.5 L1180.8,422.8 L1181.7,422.8 L1181.7,422.8 L1182.7,422.8 L1182.7,423.1 L1183.6,423.1 L1183.6,414.0 L1184.6,414.0 L1184.6,411.7 L1185.5,411.7 L1185.5,427.3 L1186.5,427.3 L1186.5,427.6 L1187.4,427.6 L1187.4,427.5 L1188.4,427.5 L1188.4,427.7 L1189.3,427.7 L1189.3,428.1 L1190.3,428.1 L1190.3,429.4 L1191.2,429.4 L1191.2,429.5 L1192.2,429.5 L1192.2,430.2 L1193.1,430.2 L1193.1,429.5 L1194.1,429.5 L1194.1,430.6 L1195.0,430.6 L1195.0,430.5 L1196.0,430.5 L1196.0,430.8 L1196.9,430.8 L1196.9,430.3 L1197.9,430.3 L1197.9,431.0 L1198.8,431.0 L1198.8,430.0 L1199.8,430.0 L1199.8,430.6 L1200.7,430.6 L1200.7,430.8 L1201.7,430.8 L1201.7,430.9 L1202.6,430.9 L1202.6,430.8 L1203.6,430.8 L1203.6,430.7 L1204.5,430.7 L1204.5,432.0 L1205.5,432.0 L1205.5,436.3 L1206.4,436.3 L1206.4,439.8 L1207.4,439.8 L1207.4,439.7 L1208.3,439.7 L1208.3,438.7 L1209.3,438.7 L1209.3,437.5 L1210.2,437.5 L1210.2,435.8 L1211.2,435.8 L1211.2,435.8 L1212.1,435.8 L1212.1,437.7 L1213.1,437.7 L1213.1,439.3 L1214.0,439.3 L1214.0,441.2 L1215.0,441.2 L1215.0,442.8 L1215.9,442.8 L1215.9,444.3 L1216.9,444.3 L1216.9,444.8 L1217.8,444.8 L1217.8,444.8 L1218.8,444.8 L1218.8,445.9 L1219.7,445.9 L1219.7,446.9 L1220.7,446.9 L1220.7,447.3 L1221.6,447.3 L1221.6,447.7 L1222.6,447.7 L1222.6,447.4 L1223.5,447.4 L1223.5,447.3 L1224.5,447.3 L1224.5,446.7 L1225.4,446.7 L1225.4,446.1 L1226.4,446.1 L1226.4,446.0 L1227.3,446.0 L1227.3,444.7 L1228.3,444.7 L1228.3,445.1 L1229.2,445.1 L1229.2,444.0 L1230.2,444.0 L1230.2,444.4 L1231.1,444.4 L1231.1,443.9 L1232.1,443.9 L1232.1,443.4 L1233.0,443.4 L1233.0,443.6 L1234.0,443.6 L1234.0,443.1 L1234.9,443.1 L1234.9,442.9 L1235.9,442.9 L1235.9,443.0 L1236.8,443.0 L1236.8,442.0 L1237.8,442.0 L1237.8,441.4 L1238.7,441.4 L1238.7,441.4 L1239.7,441.4 L1239.7,441.2 L1240.6,441.2 L1240.6,440.0 L1241.6,440.0 L1241.6,439.2 L1242.5,439.2 L1242.5,439.4 L1243.5,439.4 L1243.5,438.4 L1244.4,438.4 L1244.4,437.4 L1245.4,437.4 L1245.4,437.2 L1246.3,437.2 L1246.3,435.9 L1247.3,435.9 L1247.3,435.6 L1248.2,435.6 L1248.2,432.8 L1249.2,432.8 L1249.2,428.2 L1250.1,428.2 L1250.1,424.0 L1251.1,424.0 L1251.1,422.6 L1252.0,422.6 L1252.0,421.0 L1253.0,421.0 L1253.0,418.9 L1253.9,418.9 L1253.9,417.6 L1254.9,417.6 L1254.9,415.7 L1255.8,415.7 L1255.8,414.2 L1256.8,414.2 L1256.8,413.9 L1257.7,413.9 L1257.7,413.6 L1258.7,413.6 L1258.7,412.9 L1259.6,412.9 L1259.6,412.1 L1260.6,412.1 L1260.6,411.7 L1261.5,411.7 L1261.5,410.2 L1262.5,410.2 L1262.5,409.4 L1263.4,409.4 L1263.4,409.0 L1264.4,409.0 L1264.4,408.1 L1265.3,408.1 L1265.3,407.3 L1266.3,407.3 L1266.3,406.7 L1267.2,406.7 L1267.2,406.2 L1268.2,406.2 L1268.2,405.3 L1269.1,405.3 L1269.1,404.3 L1270.1,404.3 L1270.1,404.1 L1271.0,404.1 L1271.0,403.9 L1272.0,403.9 L1272.0,403.0 L1272.9,403.0 L1272.9,402.3 L1273.9,402.3 L1273.9,402.0 L1274.8,402.0 L1274.8,402.6 L1275.8,402.6 L1275.8,401.3 L1276.7,401.3 L1276.7,401.8 L1277.7,401.8 L1277.7,401.3 L1278.6,401.3 L1278.6,400.7 L1279.6,400.7 L1279.6,400.9 L1280.5,400.9 L1280.5,399.7 L1281.5,399.7 L1281.5,399.5 L1282.4,399.5 L1282.4,399.2 L1283.4,399.2 L1283.4,398.1 L1284.3,398.1 L1284.3,398.3 L1285.3,398.3 L1285.3,397.0 L1286.2,397.0 L1286.2,396.3 L1287.2,396.3 L1287.2,395.5 L1288.1,395.5 L1288.1,395.5 L1289.1,395.5 L1289.1,394.7 L1290.0,394.7 L1290.0,394.8 L1291.0,394.8 L1291.0,394.9 L1291.9,394.9 L1291.9,395.0 L1292.9,395.0 L1292.9,395.2 L1293.8,395.2 L1293.8,394.9 L1294.8,394.9 L1294.8,394.4 L1295.7,394.4 L1295.7,394.7 L1296.7,394.7 L1296.7,394.3 L1297.6,394.3 L1297.6,394.8 L1298.6,394.8 L1298.6,396.3 L1299.5,396.3 L1299.5,397.5 L1300.5,397.5 L1300.5,397.9 L1301.4,397.9 L1301.4,399.0 L1302.4,399.0 L1302.4,400.0 L1303.3,400.0 L1303.3,401.4 L1304.3,401.4 L1304.3,401.7 L1305.2,401.7 L1305.2,402.2 L1306.2,402.2 L1306.2,402.7 L1307.1,402.7 L1307.1,402.7 L1308.1,402.7 L1308.1,394.1 L1309.0,394.1 L1309.0,392.9 L1310.0,392.9 L1310.0,392.0 L1310.9,392.0 L1310.9,393.0 L1311.9,393.0 L1311.9,401.8 L1312.8,401.8 L1312.8,403.3 L1313.8,403.3 L1313.8,403.6 L1314.7,403.6 L1314.7,403.8 L1315.7,403.8 L1315.7,404.2 L1316.6,404.2 L1316.6,403.6 L1317.6,403.6 L1317.6,399.5 L1318.5,399.5 L1318.5,395.2 L1319.5,395.2 L1319.5,395.4 L1320.4,395.4 L1320.4,395.8 L1321.4,395.8 L1321.4,395.5 L1322.3,395.5 L1322.3,395.9 L1323.3,395.9 L1323.3,398.3 L1324.2,398.3 L1324.2,402.6 L1325.2,402.6 L1325.2,404.7 L1326.1,404.7 L1326.1,403.1 L1327.1,403.1 L1327.1,401.8 L1328.0,401.8 L1328.0,399.9 L1329.0,399.9 L1329.0,400.2 L1329.9,400.2 L1329.9,400.0 L1330.9,400.0 L1330.9,399.7 L1331.8,399.7 L1331.8,399.0 L1332.8,399.0 L1332.8,399.1 L1333.7,399.1 L1333.7,398.3 L1334.7,398.3 L1334.7,398.7 L1335.6,398.7 L1335.6,398.4 L1336.6,398.4 L1336.6,397.6 L1337.5,397.6 L1337.5,395.7 L1338.5,395.7 L1338.5,392.6 L1339.4,392.6 L1339.4,389.1 L1340.4,389.1 L1340.4,386.5 L1341.3,386.5 L1341.3,383.3 L1342.3,383.3 L1342.3,379.9 L1343.2,379.9 L1343.2,379.3 L1344.2,379.3 L1344.2,378.5 L1345.1,378.5 L1345.1,379.3 L1346.1,379.3 L1346.1,378.6 L1347.0,378.6 L1347.0,378.8 L1348.0,378.8 L1348.0,381.9 L1348.9,381.9 L1348.9,384.6 L1349.9,384.6 L1349.9,386.9 L1350.8,386.9 L1350.8,388.3 L1351.8,388.3 L1351.8,389.5 L1352.7,389.5 L1352.7,390.5 L1353.7,390.5 L1353.7,391.3 L1354.6,391.3 L1354.6,391.1 L1355.6,391.1 L1355.6,389.5 L1356.5,389.5 L1356.5,389.0 L1357.5,389.0 L1357.5,386.9 L1358.4,386.9 L1358.4,386.0 L1359.4,386.0 L1359.4,385.2 L1360.3,385.2 L1360.3,384.9 L1361.3,384.9 L1361.3,385.5 L1362.2,385.5 L1362.2,385.6 L1363.2,385.6 L1363.2,385.6 L1364.1,385.6 L1364.1,386.1 L1365.1,386.1 L1365.1,388.3 L1366.0,388.3 L1366.0,391.3 L1367.0,391.3 L1367.0,394.5 L1367.9,394.5 L1367.9,392.0 L1368.9,392.0 L1368.9,390.5 L1369.8,390.5 L1369.8,391.0 L1370.8,391.0 L1370.8,392.9 L1371.7,392.9 L1371.7,392.6 L1372.7,392.6 L1372.7,391.7 L1373.6,391.7 L1373.6,391.3 L1374.6,391.3 L1374.6,390.5 L1375.5,390.5 L1375.5,390.5 L1376.5,390.5 L1376.5,390.0 L1377.4,390.0 L1377.4,389.7 L1378.4,389.7 L1378.4,389.6 L1379.3,389.6 L1379.3,391.1 L1380.3,391.1 L1380.3,391.1 L1381.2,391.1 L1381.2,391.4 L1382.2,391.4 L1382.2,392.4 L1383.1,392.4 L1383.1,392.6 L1384.1,392.6 L1384.1,393.0 L1385.0,393.0 L1385.0,393.7 L1386.0,393.7 L1386.0,394.2 L1386.9,394.2 L1386.9,396.2 L1387.9,396.2 L1387.9,397.4 L1388.8,397.4 L1388.8,399.5 L1389.8,399.5 L1389.8,400.9 L1390.7,400.9 L1390.7,401.6 L1391.7,401.6 L1391.7,402.0 L1392.6,402.0 L1392.6,401.6 L1393.6,401.6 L1393.6,401.9 L1394.5,401.9 L1394.5,402.3 L1395.5,402.3 L1395.5,402.4 L1396.4,402.4 L1396.4,402.0 L1397.4,402.0 L1397.4,401.3 L1398.3,401.3 L1398.3,400.7 L1399.3,400.7 L1399.3,400.6 L1400.2,400.6 L1400.2,400.4 L1401.2,400.4 L1401.2,399.1 L1402.1,399.1 L1402.1,399.3 L1403.1,399.3 L1403.1,398.4 L1404.0,398.4 L1404.0,398.6 L1405.0,398.6 L1405.0,398.6 L1405.9,398.6 L1405.9,399.1 L1406.9,399.1 L1406.9,398.6 L1407.8,398.6 L1407.8,398.7 L1408.8,398.7 L1408.8,398.9 L1409.7,398.9 L1409.7,398.3 L1410.7,398.3 L1410.7,399.0 L1411.6,399.0 L1411.6,398.3 L1412.6,398.3 L1412.6,398.7 L1413.5,398.7 L1413.5,398.4 L1414.5,398.4 L1414.5,398.3 L1415.4,398.3 L1415.4,398.6 L1416.4,398.6 L1416.4,398.5 L1417.3,398.5 L1417.3,398.4 L1418.3,398.4 L1418.3,399.5 L1419.2,399.5 L1419.2,401.1 L1420.2,401.1 L1420.2,401.5 L1421.1,401.5 L1421.1,401.1 L1422.1,401.1 L1422.1,401.1 L1423.0,401.1 L1423.0,400.7 L1424.0,400.7 L1424.0,400.2 L1424.9,400.2 L1424.9,400.1 L1425.9,400.1 L1425.9,399.4 L1426.8,399.4 L1426.8,399.4 L1427.8,399.4 L1427.8,398.9 L1428.7,398.9 L1428.7,399.6 L1429.7,399.6 L1429.7,399.8 L1430.6,399.8 L1430.6,400.0 L1431.6,400.0 L1431.6,399.5 L1432.5,399.5 L1432.5,399.2 L1433.5,399.2 L1433.5,398.8 L1434.4,398.8 L1434.4,397.0 L1435.4,397.0 L1435.4,396.8 L1436.3,396.8 L1436.3,395.6 L1437.3,395.6 L1437.3,393.7 L1438.2,393.7 L1438.2,392.8 L1439.2,392.8 L1439.2,392.4 L1440.1,392.4 L1440.1,391.0 L1441.1,391.0 L1441.1,389.8 L1442.0,389.8 L1442.0,389.7 L1443.0,389.7 L1443.0,388.3 L1443.9,388.3 L1443.9,387.1 L1444.9,387.1 L1444.9,384.5 L1445.8,384.5 L1445.8,383.3 L1446.8,383.3 L1446.8,383.3 L1447.7,383.3 L1447.7,382.3 L1448.7,382.3 L1448.7,382.2 L1449.6,382.2 L1449.6,382.4 L1450.6,382.4 L1450.6,382.4 L1451.5,382.4 L1451.5,382.1 L1452.5,382.1 L1452.5,380.9 L1453.4,380.9 L1453.4,381.0 L1454.4,381.0 L1454.4,381.0 L1455.3,381.0 L1455.3,380.4 L1456.3,380.4 L1456.3,380.3 L1457.2,380.3 L1457.2,379.5 L1458.2,379.5 L1458.2,379.1 L1459.1,379.1 L1459.1,378.9 L1460.1,378.9 L1460.1,378.5 L1461.0,378.5 L1461.0,378.8 L1462.0,378.8 L1462.0,378.5 L1462.9,378.5 L1462.9,378.3 L1463.9,378.3 L1463.9,377.6 L1464.8,377.6 L1464.8,377.4 L1465.8,377.4 L1465.8,377.0 L1466.7,377.0 L1466.7,377.0 L1467.7,377.0 L1467.7,376.5 L1468.6,376.5 L1468.6,375.8 L1469.6,375.8 L1469.6,374.2 L1470.5,374.2 L1470.5,373.5 L1471.5,373.5 L1471.5,373.5 L1472.4,373.5 L1472.4,370.7 L1473.4,370.7 L1473.4,368.9 L1474.3,368.9 L1474.3,367.9 L1475.3,367.9 L1475.3,374.8 L1476.2,374.8 L1476.2,376.7 L1477.2,376.7 L1477.2,376.4 L1478.1,376.4 L1478.1,376.4 L1479.1,376.4 L1479.1,375.6 L1480.0,375.6 L1480.0,376.2 L1481.0,376.2 L1481.0,376.1 L1481.9,376.1 L1481.9,375.2 L1482.9,375.2 L1482.9,375.2 L1483.8,375.2 L1483.8,375.3 L1484.8,375.3 L1484.8,374.7 L1485.7,374.7 L1485.7,374.3 L1486.7,374.3 L1486.7,374.0 L1487.6,374.0 L1487.6,374.1 L1488.6,374.1 L1488.6,373.4 L1489.5,373.4 L1489.5,374.1 L1490.5,374.1 L1490.5,373.8 L1491.4,373.8 L1491.4,373.6 L1492.4,373.6 L1492.4,373.6 L1493.3,373.6 L1493.3,373.2 L1494.3,373.2 L1494.3,372.8 L1495.2,372.8 L1495.2,372.9 L1496.2,372.9 L1496.2,372.7 L1497.1,372.7 L1497.1,373.1 L1498.1,373.1 L1498.1,372.8 L1499.0,372.8 L1499.0,372.0 L1500.0,372.0 L1500.0,372.6 L1500.9,372.6 L1500.9,372.3 L1501.9,372.3 L1501.9,372.2 L1502.8,372.2 L1502.8,372.1 L1503.8,372.1 L1503.8,371.5 L1504.7,371.5 L1504.7,371.4 L1505.7,371.4 L1505.7,370.8 L1506.6,370.8 L1506.6,370.0 L1507.6,370.0 L1507.6,369.5 L1508.5,369.5 L1508.5,368.9 L1509.5,368.9 L1509.5,369.8 L1510.4,369.8 L1510.4,373.8 L1511.4,373.8 L1511.4,386.4 L1512.3,386.4 L1512.3,387.1 L1513.3,387.1 L1513.3,387.6 L1514.2,387.6 L1514.2,387.4 L1515.2,387.4 L1515.2,388.2 L1516.1,388.2 L1516.1,388.8 L1517.1,388.8 L1517.1,389.1 L1518.0,389.1 L1518.0,388.3 L1519.0,388.3 L1519.0,388.7 L1519.9,388.7 L1519.9,388.0 L1520.9,388.0 L1520.9,387.3 L1521.8,387.3 L1521.8,387.3 L1522.8,387.3 L1522.8,386.8 L1523.7,386.8 L1523.7,386.4 L1524.7,386.4 L1524.7,385.8 L1525.6,385.8 L1525.6,386.1 L1526.6,386.1 L1526.6,385.4 L1527.5,385.4 L1527.5,385.1 L1528.5,385.1 L1528.5,384.8 L1529.4,384.8 L1529.4,384.7 L1530.4,384.7 L1530.4,383.4 L1531.3,383.4 L1531.3,383.8 L1532.3,383.8 L1532.3,383.6 L1533.2,383.6 L1533.2,382.8 L1534.2,382.8 L1534.2,382.7 L1535.1,382.7 L1535.1,382.0 L1536.1,382.0 L1536.1,381.9 L1537.0,381.9 L1537.0,381.8 L1538.0,381.8 L1538.0,381.2 L1538.9,381.2 L1538.9,381.1 L1539.9,381.1 L1539.9,381.4 L1540.8,381.4 L1540.8,380.6 L1541.8,380.6 L1541.8,380.0 L1542.7,380.0 L1542.7,380.1 L1543.7,380.1 L1543.7,379.2 L1544.6,379.2 L1544.6,379.2 L1545.6,379.2 L1545.6,378.3 L1546.5,378.3 L1546.5,378.0 L1547.5,378.0 L1547.5,376.7 L1548.4,376.7 L1548.4,376.8 L1549.4,376.8 L1549.4,376.5 L1550.3,376.5 L1550.3,375.3 L1551.3,375.3 L1551.3,375.6 L1552.2,375.6 L1552.2,374.0 L1553.2,374.0 L1553.2,373.7 L1554.1,373.7 L1554.1,372.7 L1555.1,372.7 L1555.1,372.3 L1556.0,372.3 L1556.0,371.7 L1557.0,371.7 L1557.0,370.4 L1557.9,370.4 L1557.9,370.7 L1558.9,370.7 L1558.9,368.2 L1559.8,368.2 L1559.8,367.5 L1560.8,367.5 L1560.8,368.4 L1561.7,368.4 L1561.7,368.7 L1562.7,368.7 L1562.7,368.1 L1563.6,368.1 L1563.6,367.9 L1564.6,367.9 L1564.6,367.2 L1565.5,367.2 L1565.5,366.3 L1566.5,366.3 L1566.5,366.2 L1567.4,366.2 L1567.4,365.2 L1568.4,365.2 L1568.4,364.5 L1568.5,364.5 L1568.5,555 L995,555 Z" fill="url(#bst)"/>
<rect x="1002.3" y="213.8" width="1.3" height="105" fill="#2323b6"/><rect x="1005.7" y="274" width="1.2" height="37" fill="#2323b6"/><rect x="995" y="313" width="0.9" height="44" fill="#2a2ca8"/>
<rect x="995" y="553.4" width="573.5" height="2.2" fill="#1a1aff"/>
<rect x="992" y="554" width="3" height="1.6" fill="#ffffff"/>
<rect x="992" y="312.4" width="3" height="1.4" fill="#55565f"/>
<rect x="992" y="70.3" width="3" height="1.4" fill="#55565f"/>
<text x="67.93" y="129.80" font-size="17.5" font-weight="400" fill="#a3a3ab" text-anchor="end" letter-spacing="0.228">80k</text>
<text x="67.93" y="237.30" font-size="17.5" font-weight="400" fill="#a3a3ab" text-anchor="end" letter-spacing="0.228">60k</text>
<text x="67.93" y="344.70" font-size="17.5" font-weight="400" fill="#a3a3ab" text-anchor="end" letter-spacing="0.228">40k</text>
<text x="67.93" y="452.00" font-size="17.5" font-weight="400" fill="#a3a3ab" text-anchor="end" letter-spacing="0.228">20k</text>
<text x="67.40" y="559.20" font-size="17.5" font-weight="400" fill="#a3a3ab" text-anchor="end">0</text>
<text x="605.80" y="98.20" font-size="17.5" font-weight="400" fill="#a3a3ab" text-anchor="start" letter-spacing="0.134">$8b</text>
<text x="605.80" y="213.00" font-size="17.5" font-weight="400" fill="#a3a3ab" text-anchor="start" letter-spacing="0.134">$6b</text>
<text x="605.80" y="327.80" font-size="17.5" font-weight="400" fill="#a3a3ab" text-anchor="start" letter-spacing="0.134">$4b</text>
<text x="605.80" y="442.60" font-size="17.5" font-weight="400" fill="#a3a3ab" text-anchor="start" letter-spacing="0.134">$2b</text>
<text x="605.80" y="559.20" font-size="17.5" font-weight="400" fill="#a3a3ab" text-anchor="start">0</text>
<text x="79.00" y="581.00" font-size="17.5" font-weight="400" fill="#a3a3ab" text-anchor="middle" letter-spacing="0.009">Aug 2024</text>
<text x="208.69" y="581.00" font-size="17.5" font-weight="400" fill="#a3a3ab" text-anchor="middle" letter-spacing="0.374">Jan 2025</text>
<text x="337.49" y="581.00" font-size="17.5" font-weight="400" fill="#a3a3ab" text-anchor="middle" letter-spacing="0.374">Jun 2025</text>
<text x="466.21" y="581.00" font-size="17.5" font-weight="400" fill="#a3a3ab" text-anchor="middle" letter-spacing="0.011">Nov 2025</text>
<text x="0.11" y="0.00" font-size="17.5" font-weight="400" fill="#ffffff" text-anchor="middle" letter-spacing="0.213" transform="translate(18.3,312.6) rotate(-90)">cbBTC Supply (BTC)</text>
<text x="0.12" y="0.00" font-size="17.5" font-weight="400" fill="#ffffff" text-anchor="middle" letter-spacing="0.247" transform="translate(657.3,313) rotate(90)">cbBTC Market Cap (USD)</text>
<text x="979.99" y="75.30" font-size="17.5" font-weight="400" fill="#a3a3ab" text-anchor="end" letter-spacing="-0.415">100%</text>
<text x="980.89" y="316.80" font-size="17.5" font-weight="400" fill="#a3a3ab" text-anchor="end" letter-spacing="-0.009">50%</text>
<text x="980.90" y="558.60" font-size="17.5" font-weight="400" fill="#a3a3ab" text-anchor="end">0</text>
<text x="992.70" y="580.60" font-size="17.5" font-weight="400" fill="#a3a3ab" text-anchor="middle" letter-spacing="0.009">Aug 2024</text>
<text x="1137.09" y="580.60" font-size="17.5" font-weight="400" fill="#a3a3ab" text-anchor="middle" letter-spacing="0.374">Jan 2025</text>
<text x="1281.09" y="580.60" font-size="17.5" font-weight="400" fill="#a3a3ab" text-anchor="middle" letter-spacing="0.374">Jun 2025</text>
<text x="1424.91" y="580.60" font-size="17.5" font-weight="400" fill="#a3a3ab" text-anchor="middle" letter-spacing="0.011">Nov 2025</text>
<text x="1280.70" y="603.70" font-size="17" font-weight="400" fill="#ffffff" text-anchor="middle" letter-spacing="0.198">Date</text>
<text x="-0.02" y="0.00" font-size="17.5" font-weight="400" fill="#ffffff" text-anchor="middle" letter-spacing="-0.042" transform="translate(931.3,312.7) rotate(-90)">Mints</text>
</svg>
<svg class="cv" width="1795" height="627" viewBox="0 0 1795 627"><rect x="864.9" y="0" width="1.3" height="627" fill="#5a5a60"/><rect x="902" y="0" width="1.1" height="627" fill="#27282e"/><rect x="1777.9" y="0" width="1.1" height="627" fill="#222329"/></svg>

<section>
<h2 class="t title on u" id="t1" style="letter-spacing:-0.298px;left:1px">cbBTC Supply &amp; Market Cap (All Chains)</h2>
<h2 class="t title off" id="t2" style="letter-spacing:-0.311px;left:396px">cbBTC Overall Daily Growth</h2>
<div class="lg" id="l1" style="letter-spacing:0.520px;margin-right:-0.520px;right:964px;top:273.8px">Market Cap</div><div class="sq" style="left:839px;top:275.9px;background:#0505fb"></div>
<div class="lg" id="l2" style="letter-spacing:0.601px;margin-right:-0.601px;right:964px;top:302.9px">Supply</div><div class="sq" style="left:839px;top:305.7px;background:#fa9b0d"></div>
<div class="av" style="left:1.4px;top:592px"></div>
<div class="t user" id="u1" style="letter-spacing:0.647px;left:31px"><span class="at">@</span>cbinstitutional_team</div>
<svg class="cv" width="1795" height="627" viewBox="0 0 1795 627">
<g fill="#fff"><circle cx="666" cy="604.2" r="2.2"/><circle cx="673.9" cy="604.2" r="2.2"/><circle cx="681.8" cy="604.2" r="2.2"/></g>
<g id="plug" fill="none" stroke="#fff" stroke-width="1.5" stroke-linecap="round" stroke-linejoin="round">
<path d="M720.4 596.5 L723 593.8 M723.3 599.5 L726.3 596.8"/>
<path d="M717.7 595.3 L725.4 602.1 C725 604.5 722.5 607.3 718.9 607.1 C715 606.9 712.4 603.8 712.7 600.3 C713 597.5 715.5 595.4 717.7 595.3 Z"/>
<path d="M714.5 605.6 C712.5 607 710.3 608.7 710.5 611 C710.8 613.8 713.3 614.3 715.2 613.7 C717.2 613 718.5 611.7 720.4 611.5 C722.3 611.4 723.6 612.5 724.2 613.9"/>
</g>
</svg>
<div class="t" id="api" style="letter-spacing:-0.142px;left:737.3px;top:596.6px;font-size:16.9px;font-weight:500;color:#fff;-webkit-text-stroke:0.32px #fff">API</div>
<div class="badge" style="left:784.2px;top:588.9px"></div>
<div class="t b4" id="b1" style="letter-spacing:1.206px;left:793px;top:596.5px">4h</div>
</section>

<section>
<h2 class="t title on" id="t3" style="letter-spacing:-0.161px;left:915px">cbBTC Supply Distribution (Normalized)</h2>
<h2 class="t title off" id="t4" style="letter-spacing:-0.361px;left:1304px">cbBTC Mints, Burns &amp; Supply (By Chain)</h2>
<div class="lg" id="r1" style="letter-spacing:0.028px;margin-right:-0.028px;right:50.8px;top:229.4px">All</div><div class="sq" style="left:1752.8px;top:233.2px;background:#a4a4ab"></div>
<div class="lg" id="r2" style="letter-spacing:0.190px;margin-right:-0.190px;right:50.8px;top:258.4px">Solana</div><div class="sq" style="left:1752.8px;top:261.8px;background:#d660b5"></div>
<div class="lg" id="r3" style="letter-spacing:0.601px;margin-right:-0.601px;right:50.8px;top:287.8px">Arbitrum</div><div class="sq" style="left:1752.8px;top:291.2px;background:#9b9b9b"></div>
<div class="lg" id="r4" style="letter-spacing:0.241px;margin-right:-0.241px;right:50.8px;top:317px">Ethereum</div><div class="sq" style="left:1752.8px;top:320px;background:#4b4d79"></div>
<div class="lg" id="r5" style="letter-spacing:-0.102px;margin-right:0.102px;right:50.8px;top:346.4px">Base</div><div class="sq" style="left:1752.8px;top:349.8px;background:#0505fb"></div>
<div class="av" style="left:915.2px;top:592px"></div>
<div class="t user" id="u2" style="letter-spacing:0.628px;left:944.6px"><span class="at">@</span>cbinstitutional_team</div>
<div class="badge" style="left:1697.6px;top:589.1px"></div>
<div class="t b4" id="b2" style="letter-spacing:1.406px;left:1706.2px;top:596.5px">4h</div>
</section>
<svg class="cv" width="1795" height="627" viewBox="0 0 1795 627">
<g fill="none" stroke="#d5ecd9" stroke-width="1.35" stroke-linejoin="round" stroke-linecap="round"><path d="M832.00,594.00 L835.06,596.51 L839.00,596.90 L839.39,600.84 L841.90,603.90 L839.39,606.96 L839.00,610.90 L835.06,611.29 L832.00,613.80 L828.94,611.29 L825.00,610.90 L824.61,606.96 L822.10,603.90 L824.61,600.84 L825.00,596.90 L828.94,596.51 Z"/><path d="M827.80,605.10 L830.50,607.40 L836.10,601.80"/></g>
<g fill="none" stroke="#d5ecd9" stroke-width="1.35" stroke-linejoin="round" stroke-linecap="round"><path d="M1745.40,594.00 L1748.46,596.51 L1752.40,596.90 L1752.79,600.84 L1755.30,603.90 L1752.79,606.96 L1752.40,610.90 L1748.46,611.29 L1745.40,613.80 L1742.34,611.29 L1738.40,610.90 L1738.01,606.96 L1735.50,603.90 L1738.01,600.84 L1738.40,596.90 L1742.34,596.51 Z"/><path d="M1741.20,605.10 L1743.90,607.40 L1749.50,601.80"/></g>
</svg>
</body></html>
